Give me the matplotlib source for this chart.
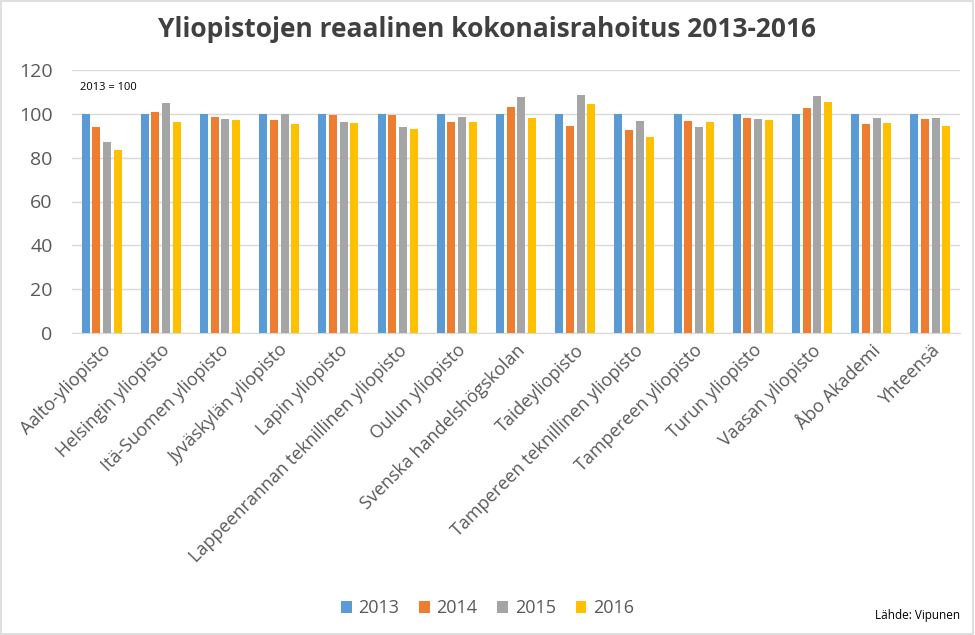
import numpy as np
import matplotlib
matplotlib.use("Agg")
import matplotlib.pyplot as plt
from matplotlib.patches import Rectangle

# ---------------------------------------------------------------------------
# DATA (index, 2013 = 100)
# ---------------------------------------------------------------------------
universities = [
    "Aalto-yliopisto", "Helsingin yliopisto", "Itä-Suomen yliopisto",
    "Jyväskylän yliopisto", "Lapin yliopisto",
    "Lappeenrannan teknillinen yliopisto", "Oulun yliopisto",
    "Svenska handelshögskolan", "Taideyliopisto",
    "Tampereen teknillinen yliopisto", "Tampereen yliopisto",
    "Turun yliopisto", "Vaasan yliopisto", "Åbo Akademi", "Yhteensä",
]
years = ["2013", "2014", "2015", "2016"]
v2013 = [100] * 15
v2014 = [94.1, 100.9, 98.6, 97.3, 99.5, 99.5, 96.4, 103.2, 94.6, 92.8,
         96.8, 98.2, 102.7, 95.5, 97.7]
v2015 = [87.3, 105.0, 97.7, 100.0, 96.4, 94.1, 98.6, 107.7, 108.6, 96.8,
         94.1, 97.7, 108.1, 98.2, 98.2]
v2016 = [83.7, 96.4, 97.3, 95.5, 95.9, 93.2, 96.4, 98.2, 104.5, 89.6,
         96.4, 97.3, 105.4, 95.9, 94.6]
series = [v2013, v2014, v2015, v2016]
colors = ["#5B9BD5", "#ED7D31", "#A5A5A5", "#FFC000"]

FONT = "Open Sans"

fig = plt.figure(figsize=(9.75, 6.35), dpi=100)
ax = fig.add_axes([72 / 975, 1 - 333 / 635, 888 / 975, 263 / 635])

x = np.arange(len(universities))
pitch = 0.18
width = 0.135
for i, (vals, col, yr) in enumerate(zip(series, colors, years)):
    ax.bar(x + (i - 1.5) * pitch, vals, width=width, color=col, label=yr,
           zorder=3)

ax.set_xlim(-0.5, len(universities) - 0.5)
ax.set_ylim(0, 120)
ax.set_yticks(range(0, 121, 20))
ax.yaxis.grid(True, color="#D9D9D9", linewidth=1, zorder=0)
for s in ["top", "right", "left"]:
    ax.spines[s].set_visible(False)
ax.spines["bottom"].set_color("#D9D9D9")
ax.tick_params(axis="both", length=0, colors="#595959")
ax.tick_params(axis="y", labelsize=14, pad=14)
ax.tick_params(axis="x", pad=6)
ax.set_xticks(x)
ax.set_xticklabels(universities, rotation=45, ha="right",
                   rotation_mode="anchor", fontsize=13, family=FONT)
for lab in ax.get_yticklabels():
    lab.set_family(FONT)

ax.text(0.009, 0.925, "2013 = 100", transform=ax.transAxes, fontsize=8,
        family=FONT, color="black")

fig.suptitle("Yliopistojen reaalinen kokonaisrahoitus 2013-2016",
             x=0.5, y=0.975, fontsize=19, fontweight="bold", family=FONT,
             color="#404040")

fig.legend(loc="center", bbox_to_anchor=(0.5, 0.042), ncol=4, frameon=False,
           prop={"family": FONT, "size": 13}, handlelength=0.6,
           handleheight=0.6, columnspacing=1.1, handletextpad=0.35,
           labelcolor="#595959")

fig.text(0.985, 0.03, "Lähde: Vipunen", ha="right", va="center",
         fontsize=8.5, family=FONT)

fig.patches.append(Rectangle((0.001, 0.001), 0.997, 0.997,
                             transform=fig.transFigure, fill=False,
                             edgecolor="#D9D9D9", linewidth=1.2))

fig.savefig("out.png", dpi=100)
